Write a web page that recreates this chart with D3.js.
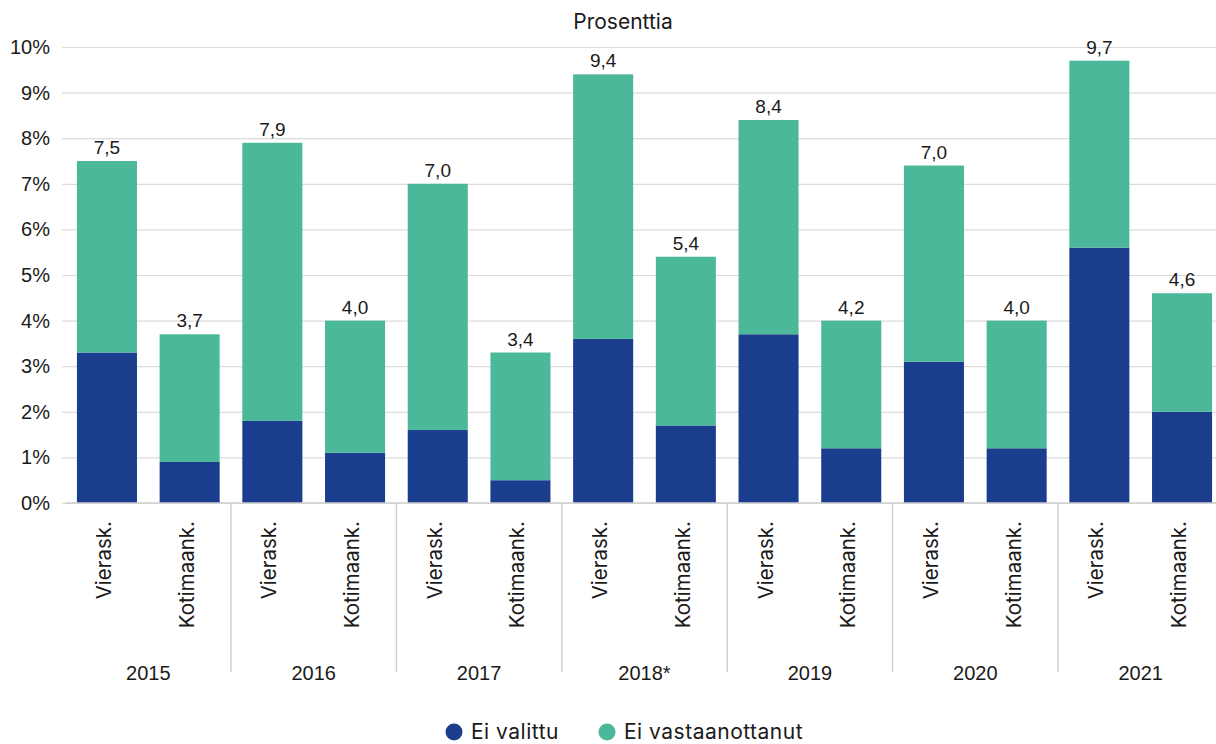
<!DOCTYPE html>
<html>
<head>
<meta charset="utf-8">
<script src="https://cdn.jsdelivr.net/npm/d3@7"></script>
<style>
  html, body { margin: 0; padding: 0; background: #fff; }
  svg { display: block; }
  text { font-family: "Liberation Sans", Arial, sans-serif; fill: #1a1a1a; }
  text.word { font-family: Inter, "Liberation Sans", sans-serif; }
</style>
</head>
<body>
<svg id="chart" width="1216" height="744"></svg>
<script>
const years = ['2015', '2016', '2017', '2018*', '2019', '2020', '2021'];
const groups = ['Vierask.', 'Kotimaank.'];
const eiValittu = [3.3, 0.9, 1.8, 1.1, 1.6, 0.5, 3.6, 1.7, 3.7, 1.2, 3.1, 1.2, 5.6, 2.0];
const eiVastaanottanut = [4.2, 2.8, 6.1, 2.9, 5.4, 2.8, 5.8, 3.7, 4.7, 2.8, 4.3, 2.8, 4.1, 2.6];
const valueLabels = ['7,5', '3,7', '7,9', '4,0', '7,0', '3,4', '9,4', '5,4', '8,4', '4,2', '7,0', '4,0', '9,7', '4,6'];
const yTicks = [0, 1, 2, 3, 4, 5, 6, 7, 8, 9, 10];
const seriesNames = ['Ei valittu', 'Ei vastaanottanut'];
const colors = ['#1b3d8d', '#4bb89a'];

const rows = [];
years.forEach((yr, i) => {
  groups.forEach((g, j) => {
    const k = i * 2 + j;
    rows.push({ year: yr, group: g, a: eiValittu[k], b: eiVastaanottanut[k], label: valueLabels[k] });
  });
});

const svg = d3.select('#chart');
const plotLeft = 65.6, plotRight = 1223.4, plotTop = 47, plotBottom = 503;

const x0 = d3.scaleBand().domain(years).range([plotLeft, plotRight]).padding(0);
const x1 = d3.scaleBand().domain(groups).range([0, x0.bandwidth()])
  .paddingInner(0.274).paddingOuter(0.137);
const y = d3.scaleLinear().domain([0, 10]).range([plotBottom, plotTop]);

// gridlines + y axis
const yAxis = d3.axisLeft(y).tickValues(yTicks).tickFormat(d => d + '%')
  .tickSizeInner(-(1216 - 62)).tickSizeOuter(0).tickPadding(12);
const gy = svg.append('g').attr('transform', 'translate(62,0)').call(yAxis);
gy.select('.domain').remove();
gy.selectAll('.tick line').attr('stroke', '#dcdcdc').attr('stroke-width', 1.2);
gy.selectAll('.tick text').style('font-size', '20px').attr('fill', '#1a1a1a')
  .style('font-family', '"Liberation Sans", Arial, sans-serif');

// stacked bars
const stack = d3.stack().keys(['a', 'b']);
const stacked = stack(rows);
svg.append('g').selectAll('g').data(stacked).join('g')
  .attr('fill', (d, i) => colors[i])
  .selectAll('rect').data(d => d).join('rect')
  .attr('x', d => x0(d.data.year) + x1(d.data.group))
  .attr('width', x1.bandwidth())
  .attr('y', d => y(d[1]))
  .attr('height', d => y(d[0]) - y(d[1]));

// value labels
svg.append('g').selectAll('text').data(rows).join('text')
  .attr('x', d => x0(d.year) + x1(d.group) + x1.bandwidth() / 2)
  .attr('y', d => y(d.a + d.b) - 7)
  .attr('text-anchor', 'middle')
  .style('font-size', '19px')
  .text(d => d.label);

// baseline
svg.append('line').attr('x1', 65).attr('x2', 1216).attr('y1', plotBottom).attr('y2', plotBottom)
  .attr('stroke', '#cfcfcf').attr('stroke-width', 1.5);

// group separators
svg.append('g').selectAll('line').data(years.slice(1)).join('line')
  .attr('x1', d => x0(d)).attr('x2', d => x0(d))
  .attr('y1', plotBottom).attr('y2', 672)
  .attr('stroke', '#cfcfcf').attr('stroke-width', 1.5);

// category labels (rotated)
svg.append('g').selectAll('text').data(rows).join('text')
  .attr('class', 'word')
  .attr('transform', d => `translate(${x0(d.year) + x1(d.group) + x1.bandwidth() / 2 + 4},521) rotate(-90)`)
  .attr('text-anchor', 'end')
  .style('font-size', '20.5px')
  .text(d => d.group);

// year labels
svg.append('g').selectAll('text').data(years).join('text')
  .attr('x', d => x0(d) + x0.bandwidth() / 2)
  .attr('y', 680)
  .attr('text-anchor', 'middle')
  .style('font-size', '20px')
  .text(d => d);

// title
svg.append('text').attr('class', 'word').attr('x', 623).attr('y', 29).attr('text-anchor', 'middle')
  .style('font-size', '21px').text('Prosenttia');

// legend
const legendX = [454, 607];
const lg = svg.append('g').selectAll('g').data(seriesNames).join('g')
  .attr('transform', (d, i) => `translate(${legendX[i]},732)`);
lg.append('circle').attr('r', 8.5).attr('fill', (d, i) => colors[i]);
lg.append('text').attr('class', 'word').attr('x', 17).attr('y', 7)
  .style('font-size', '21px').style('letter-spacing', '0.5px').text(d => d);
</script>
</body>
</html>
